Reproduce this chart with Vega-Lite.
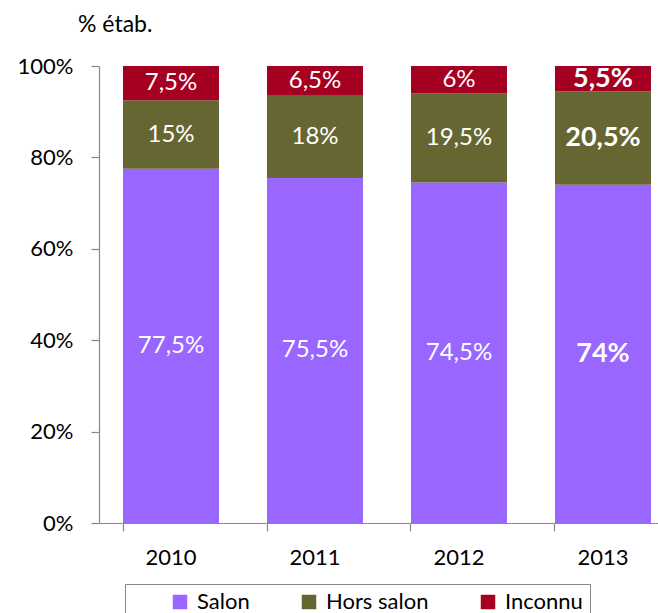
{
  "$schema": "https://vega.github.io/schema/vega-lite/v6.json",
  "autosize": {"type": "none"},
  "padding": {"left": 99, "top": 66, "right": 0, "bottom": 90},
  "width": 559,
  "height": 457,
  "background": "white",
  "config": {"view": {"stroke": null}, "font": "Lato"},
  "title": {"text": "% étab.", "anchor": "start", "frame": "group", "dx": -21, "offset": 0, "baseline": "alphabetic", "fontSize": 23, "fontWeight": "normal", "font": "Lato", "color": "black"},
  "data": {"values": [
    {"annee": "2010", "categorie": "Salon", "pct": 77.5},
    {"annee": "2010", "categorie": "Hors salon", "pct": 15},
    {"annee": "2010", "categorie": "Inconnu", "pct": 7.5},
    {"annee": "2011", "categorie": "Salon", "pct": 75.5},
    {"annee": "2011", "categorie": "Hors salon", "pct": 18},
    {"annee": "2011", "categorie": "Inconnu", "pct": 6.5},
    {"annee": "2012", "categorie": "Salon", "pct": 74.5},
    {"annee": "2012", "categorie": "Hors salon", "pct": 19.5},
    {"annee": "2012", "categorie": "Inconnu", "pct": 6},
    {"annee": "2013", "categorie": "Salon", "pct": 74},
    {"annee": "2013", "categorie": "Hors salon", "pct": 20.5},
    {"annee": "2013", "categorie": "Inconnu", "pct": 5.5}
  ]},
  "transform": [
    {"calculate": "indexof(['Salon','Hors salon','Inconnu'], datum.categorie)", "as": "rang"},
    {"stack": "pct", "groupby": ["annee"], "sort": [{"field": "rang", "order": "ascending"}], "as": ["y0", "y1"]},
    {"calculate": "(datum.y0 + datum.y1) / 2", "as": "ymid"},
    {"calculate": "replace(toString(datum.pct), '.', ',') + '%'", "as": "etiquette"}
  ],
  "layer": [
    {
      "mark": {"type": "bar", "strokeWidth": 0},
      "encoding": {
        "x": {"field": "annee", "type": "nominal", "sort": null,
          "scale": {"range": [0, 576], "paddingInner": 0.3333, "paddingOuter": 0.1667},
          "axis": {"title": null, "labelAngle": 0, "bandPosition": 0, "tickSize": 8, "labelPadding": 16, "labelFontSize": 22, "labelFont": "Lato", "labelColor": "black", "domainColor": "#888888", "tickColor": "#888888", "domainWidth": 1.2, "tickWidth": 1.2}},
        "y": {"field": "y0", "type": "quantitative",
          "scale": {"domain": [0, 100], "nice": false},
          "axis": {"title": null, "values": [0, 20, 40, 60, 80, 100], "labelExpr": "datum.value + '%'", "grid": false, "tickSize": 8, "labelPadding": 18, "labelFontSize": 22, "labelFont": "Lato", "labelColor": "black", "domainColor": "#888888", "tickColor": "#888888", "domainWidth": 1.2, "tickWidth": 1.2}},
        "y2": {"field": "y1"},
        "color": {"field": "categorie", "type": "nominal",
          "scale": {"domain": ["Salon", "Hors salon", "Inconnu"], "range": ["#9966FF", "#666633", "#A50021"]},
          "legend": {"orient": "none", "legendX": 26, "legendY": 518, "direction": "horizontal",
            "title": " ", "titleOrient": "left", "titlePadding": 37, "titleFontSize": 22, "titleFont": "Lato",
            "strokeColor": "#888888", "padding": 7,
            "symbolType": "square", "symbolSize": 210, "symbolStrokeWidth": 0, "symbolOpacity": 1,
            "labelFontSize": 22, "labelFont": "Lato", "labelColor": "black", "labelOffset": 6, "columnPadding": 48,
            "labelExpr": "datum.label == 'Inconnu' ? 'Inconnu\u00a0\u00a0\u00a0\u00a0\u00a0\u00a0' : datum.label"}}
      }
    },
    {
      "transform": [{"filter": "datum.annee != '2013'"}],
      "mark": {"type": "text", "color": "white", "font": "Lato", "fontSize": 24, "baseline": "middle"},
      "encoding": {
        "x": {"field": "annee", "type": "nominal", "sort": null},
        "y": {"field": "ymid", "type": "quantitative"},
        "text": {"field": "etiquette"}
      }
    },
    {
      "transform": [{"filter": "datum.annee == '2013'"}],
      "mark": {"type": "text", "color": "white", "font": "Lato", "fontSize": 27, "fontWeight": "bold", "baseline": "middle"},
      "encoding": {
        "x": {"field": "annee", "type": "nominal", "sort": null},
        "y": {"field": "ymid", "type": "quantitative"},
        "text": {"field": "etiquette"}
      }
    }
  ]
}
